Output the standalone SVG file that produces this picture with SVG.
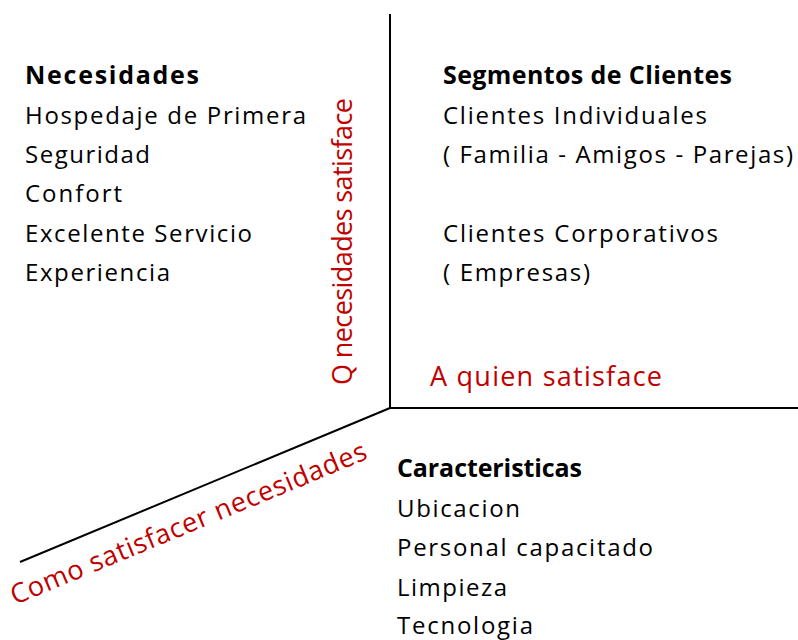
<svg xmlns="http://www.w3.org/2000/svg" width="798" height="640" viewBox="0 0 798 640">
<style>
.t{font-family:"Open Sans","Noto Sans","Liberation Sans",sans-serif;font-size:24px;fill:#000}
.b{font-weight:bold;font-size:25px}
.r{font-family:"Open Sans","Noto Sans","Liberation Sans",sans-serif;font-size:27px;fill:#C00000}
.ax{stroke:#000;stroke-width:2;fill:none}
</style>
<rect width="798" height="640" fill="#fff"/>
<g id="connectors">
<line class="ax" x1="390" y1="14" x2="390" y2="408"/>
<line class="ax" x1="389" y1="408" x2="798" y2="408"/>
<line class="ax" x1="390" y1="408" x2="20" y2="562" stroke-width="1.5"/>
</g>
<g id="necesidades">
<text class="t b" x="25" y="84" textLength="174">Necesidades</text>
<text class="t" x="25" y="124" textLength="281">Hospedaje de Primera</text>
<text class="t" x="25" y="163" textLength="125">Seguridad</text>
<text class="t" x="25" y="202" textLength="97">Confort</text>
<text class="t" x="25" y="242" textLength="227">Excelente Servicio</text>
<text class="t" x="25" y="281" textLength="145">Experiencia</text>
</g>
<g id="segmentos">
<text class="t b" x="443" y="84" textLength="289">Segmentos de Clientes</text>
<text class="t" x="443" y="124" textLength="264">Clientes Individuales</text>
<text class="t" x="443" y="163" textLength="350">( Familia - Amigos - Parejas)</text>
<text class="t" x="443" y="242" textLength="275">Clientes Corporativos</text>
<text class="t" x="443" y="281" textLength="147">( Empresas)</text>
</g>
<g id="caracteristicas">
<text class="t b" x="397" y="477" textLength="185">Caracteristicas</text>
<text class="t" x="397" y="517" textLength="123">Ubicacion</text>
<text class="t" x="397" y="556" textLength="256">Personal capacitado</text>
<text class="t" x="397" y="596" textLength="110">Limpieza</text>
<text class="t" x="397" y="634" textLength="136">Tecnologia</text>
</g>
<g id="labels">
<text class="r" x="430" y="386" textLength="232">A quien satisface</text>
<text class="r" transform="translate(352,385) rotate(-90)" x="0" y="0" textLength="287">Q necesidades satisface</text>
<text class="r" transform="translate(15,605) rotate(-22.5)" x="0" y="0" textLength="383">Como satisfacer necesidades</text>
</g>
</svg>
